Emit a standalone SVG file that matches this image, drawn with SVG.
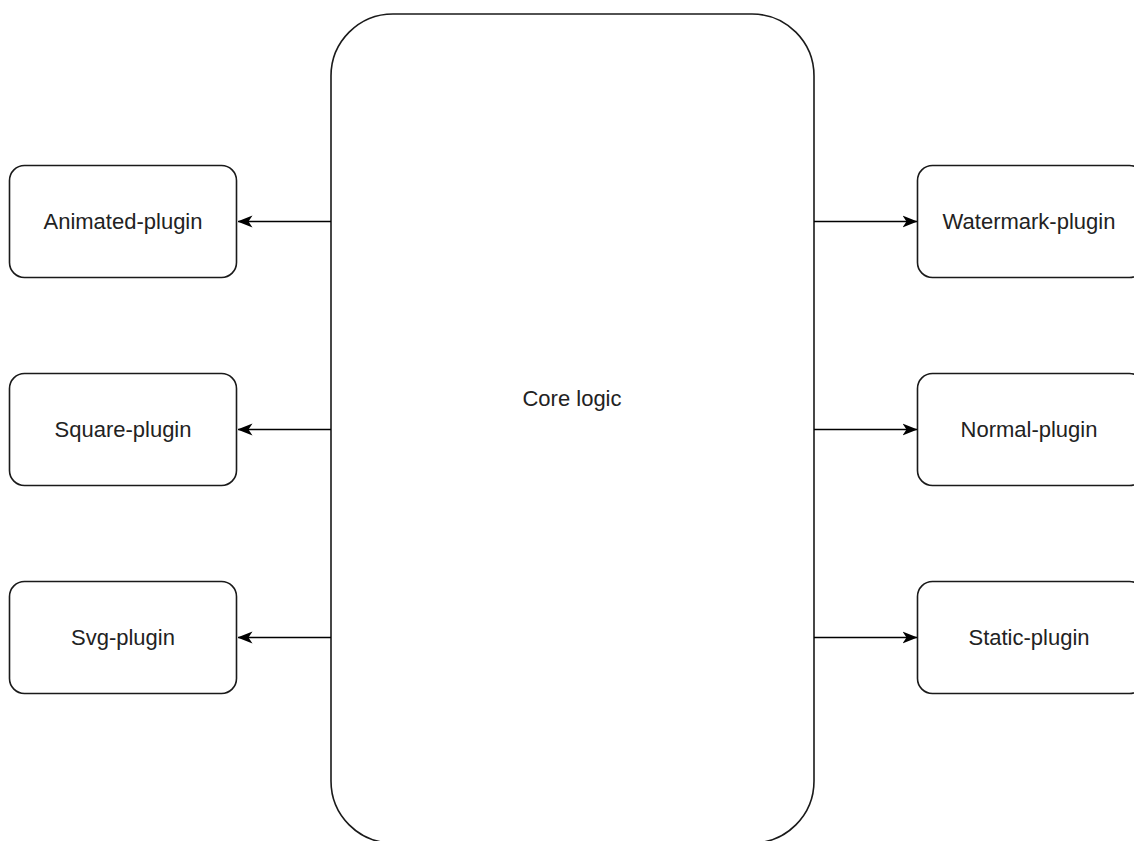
<svg xmlns="http://www.w3.org/2000/svg" width="1134" height="841" viewBox="0 0 1134 841">
<style>
.box{fill:#ffffff;stroke:#1a1a1a;stroke-width:1.6}
.lbl{font-family:"Liberation Sans",Arial,sans-serif;font-size:22px;fill:#222222;text-anchor:middle}
.edge{stroke:#000000;stroke-width:1.6;fill:none}
</style>
<defs>
<marker id="arr" viewBox="0 0 15 13" refX="14.5" refY="6.5" markerWidth="15" markerHeight="13" markerUnits="userSpaceOnUse" orient="auto">
<path d="M0,0.5 L15,6.5 L0,12.5 L4,6.5 Z" fill="#000000"/>
</marker>
</defs>
<rect width="1134" height="841" fill="#ffffff"/>
<g id="core">
<rect class="box" x="331" y="14" width="483" height="829" rx="62" ry="62"/>
<text class="lbl" x="572" y="406">Core logic</text>
</g>
<g id="animated">
<rect class="box" x="9.5" y="165.5" width="227" height="112" rx="15" ry="15"/>
<text class="lbl" x="123" y="229">Animated-plugin</text>
</g>
<g id="square">
<rect class="box" x="9.5" y="373.5" width="227" height="112" rx="15" ry="15"/>
<text class="lbl" x="123" y="437">Square-plugin</text>
</g>
<g id="svg">
<rect class="box" x="9.5" y="581.5" width="227" height="112" rx="15" ry="15"/>
<text class="lbl" x="123" y="645">Svg-plugin</text>
</g>
<g id="watermark">
<rect class="box" x="917.5" y="165.5" width="227" height="112" rx="15" ry="15"/>
<text class="lbl" x="1029" y="229">Watermark-plugin</text>
</g>
<g id="normal">
<rect class="box" x="917.5" y="373.5" width="227" height="112" rx="15" ry="15"/>
<text class="lbl" x="1029" y="437">Normal-plugin</text>
</g>
<g id="static">
<rect class="box" x="917.5" y="581.5" width="227" height="112" rx="15" ry="15"/>
<text class="lbl" x="1029" y="645">Static-plugin</text>
</g>
<g id="connectors">
<line class="edge" x1="331" y1="221.5" x2="238" y2="221.5" marker-end="url(#arr)"/>
<line class="edge" x1="331" y1="429.5" x2="238" y2="429.5" marker-end="url(#arr)"/>
<line class="edge" x1="331" y1="637.5" x2="238" y2="637.5" marker-end="url(#arr)"/>
<line class="edge" x1="814" y1="221.5" x2="917" y2="221.5" marker-end="url(#arr)"/>
<line class="edge" x1="814" y1="429.5" x2="917" y2="429.5" marker-end="url(#arr)"/>
<line class="edge" x1="814" y1="637.5" x2="917" y2="637.5" marker-end="url(#arr)"/>
</g>
</svg>
